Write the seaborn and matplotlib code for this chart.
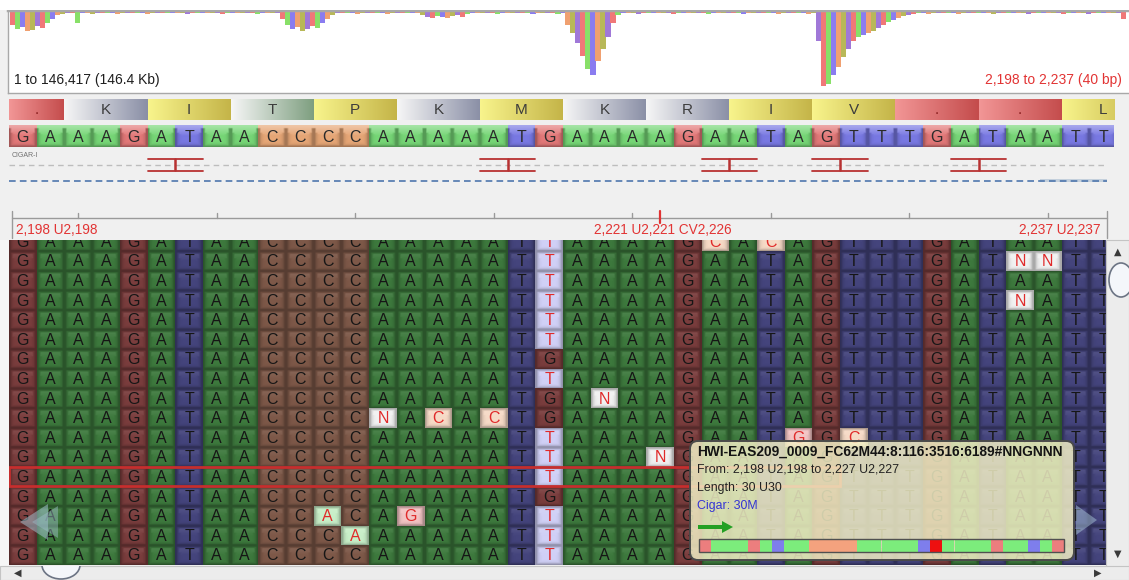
import numpy as np
import matplotlib
matplotlib.use("Agg")
import matplotlib.pyplot as plt
from matplotlib.colors import ListedColormap, to_rgb
from matplotlib.patches import Rectangle, FancyBboxPatch, Polygon, Ellipse, FancyArrow
import seaborn as sns

sns.set_theme(style="white")
plt.rcParams["font.family"] = ["Liberation Sans", "DejaVu Sans"]

# ---------------------------------------------------------------- data
genome_length = 146417
view_start, view_end = 2198, 2237
cursor_pos, cursor_cv = 2221, 2226

reference = "GAAAGATAACCCCAAAAATGAAAAGAATAGTTTGATAATT"
amino_acids = [".", "K", "I", "T", "P", "K", "M", "K", "R", "I", "V", ".", ".", "L"]
frame_offset = -1
insertion_sites = [6, 18, 26, 30, 35]

reads = [
    "GAAAGATAACCCCAAAAATTAAAAGCACAGTTTGATAATT",
    "GAAAGATAACCCCAAAAATTAAAAGAATAGTTTGATNNTT",
    "GAAAGATAACCCCAAAAATTAAAAGAATAGTTTGATAATT",
    "GAAAGATAACCCCAAAAATTAAAAGAATAGTTTGATNATT",
    "GAAAGATAACCCCAAAAATTAAAAGAATAGTTTGATAATT",
    "GAAAGATAACCCCAAAAATTAAAAGAATAGTTTGATAATT",
    "GAAAGATAACCCCAAAAATGAAAAGAATAGTTTGATAATT",
    "GAAAGATAACCCCAAAAATTAAAAGAATAGTTTGATAATT",
    "GAAAGATAACCCCAAAAATGANAAGAATAGTTTGATAATT",
    "GAAAGATAACCCCNACACTGAAAAGAATAGTTTGATAATT",
    "GAAAGATAACCCCAAAAATTAAAAGAATGGCTTGATAATT",
    "GAAAGATAACCCCAAAAATTAAANGAATAGTTTGATAATT",
    "GAAAGATAACCCCAAAAATTAAAAGAATAGTTTGATAATT",
    "GAAAGATAACCCCAAAAATGAAAAGAATAGTTTGATAATT",
    "GAAAGATAACCACAGAAATTAAAAGAATAGTTTGATAATT",
    "GAAAGATAACCCAAAAAATTAAAAGAATAGTTTGATAATT",
    "GAAAGATAACCCCAAAAATTAAAAGAATAGTTTGATAATT",
]
selected_row = 12
read_name = "HWI-EAS209_0009_FC62M44:8:116:3516:6189#NNGNNN"
read_start, read_end = 2198, 2227
read_len = 30
cigar = "30M"

coverage = [
    14, 18, 16, 20, 19, 15, 17, 12, 8,
    4, 3, 2, 2,
    12,
    2, 2, 3, 2, 2, 2, 2, 3, 2, 2, 2, 2, 2, 3, 2, 2, 2, 2, 2, 2,
    2, 3, 2, 2, 2, 2, 2, 2, 3, 2, 2, 2, 2, 2, 2, 3, 2, 2, 2, 2,
    8, 14, 18, 16, 20, 18, 15, 17, 12, 8, 4, 2,
    2, 2, 2, 3, 2, 2, 2, 2, 2, 3, 2, 2, 2, 2, 2, 2, 4, 6, 7, 5,
    6, 7, 5, 4, 6, 3, 2, 2, 2, 2, 2, 3, 2, 2, 2, 2, 2, 2, 3, 2,
    2, 2, 2, 3, 2,
    14, 22, 32, 45, 58, 64, 50, 38, 26, 12, 4,
    2, 2, 2, 3, 2, 2, 2, 2, 2, 2, 3, 2, 2, 2, 2, 2, 2, 3, 2, 2,
    2, 2, 2, 2, 3, 2, 2, 2, 2, 2, 2, 3, 2, 2, 2, 2, 2, 3, 2,
    30, 75, 73, 64, 56, 46, 38, 30, 26, 24, 22, 20, 17, 14, 11, 9, 7, 5, 4, 3,
    2, 2, 3, 2, 2, 2, 2, 2, 3, 2, 2, 2, 2, 2, 2, 3, 2, 2, 2, 2,
    2, 2, 3, 2, 2, 2, 2, 2, 2, 3, 2, 2, 2, 2, 3, 2, 2, 2, 2, 2, 2,
    8,
]

# ---------------------------------------------------------------- styles
W, H = 1129, 580
CW = 27.7          # pixel width of one base
RH = 19.6          # pixel height of one read row
X0 = 9             # left pixel of base 0
ROW1_Y = 261       # pixel centre of the second read row
BASES = "ACGT"
body_colors = ["#3d793d", "#7d5848", "#7a3d3d", "#44447c",       # match A C G T
               "#c8efc8", "#f6dac6", "#f3c4c4", "#d0d0f6", "#f2f2f2"]  # mismatch A C G T N
head_colors = ["#76d676", "#e6a676", "#e27878", "#7878e2"]
bar_colors = {"A": "#7cec7c", "C": "#f4a27e", "G": "#ec7e7e", "T": "#7e7eec"}
coverage_palette = ["#f07878", "#88e068", "#8a7cf0", "#f0a070", "#b8b858", "#a078d8"]
aa_grad = {
    ".": ("#f29696", "#c44c4c"),
    "K": ("#f6f6f6", "#8a8fa6"), "R": ("#f6f6f6", "#8a8fa6"),
    "T": ("#f6f6f6", "#7d9e7f"),
    "I": ("#f8f48c", "#c4b448"), "V": ("#f8f48c", "#c4b448"),
    "M": ("#f8f48c", "#c4b448"), "L": ("#f8f48c", "#c4b448"),
    "P": ("#f8f48c", "#c4b448"),
}


def code_of(base, ref_base):
    if base == "N":
        return 8
    if base != ref_base:
        return 4 + BASES.index(base)
    return BASES.index(base)


def px_axes(x0, y0, x1, y1, **kw):
    return fig.add_axes([x0 / W, 1 - y1 / H, (x1 - x0) / W, (y1 - y0) / H], **kw)


def edge_shade(nr, nc, s=14, strength=0.32, top_light=0.0):
    u = np.linspace(-1, 1, s)
    uu, vv = np.meshgrid(u, u)
    edge = np.maximum(np.abs(uu), np.abs(vv)) ** 6
    tile = np.zeros((s, s, 4))
    tile[..., 3] = strength * edge
    if top_light > 0:
        t = (vv + 1) / 2
        light = top_light * np.clip(1 - 2 * t, 0, 1)
        tile[..., :3] = np.where(light[..., None] > tile[..., 3:4], 1.0, 0.0)
        tile[..., 3] = np.maximum(tile[..., 3], light)
    return np.tile(tile, (nr, nc, 1))


fig = plt.figure(figsize=(W / 100, H / 100), dpi=100)
fig.patch.set_facecolor("#f0f0f0")

n_rows, n_cols = len(reads), len(reference)

# ---------------------------------------------------------------- overview coverage
ovw = px_axes(8, 10, 1129, 93)
ovw.set_facecolor("white")
bin_bp = genome_length / len(coverage)
xs = (np.arange(len(coverage)) + 0.5) * bin_bp
cols = [coverage_palette[i % len(coverage_palette)] for i in range(len(coverage))]
ovw.bar(xs, coverage, width=bin_bp * 1.02, color=cols, linewidth=0)
ovw.set_xlim(-bin_bp * 0.4, genome_length + bin_bp * 0.6)
ovw.set_ylim(82, -1)
ovw.set_xticks([]); ovw.set_yticks([])
for side, sp in ovw.spines.items():
    sp.set_color("#a8a8a8")
    sp.set_linewidth(2.5 if side == "top" else 1.0)
ovw.spines["right"].set_visible(False)

# ---------------------------------------------------------------- amino-acid track
xmax_head = (1114 - X0) / CW
aa_ax = px_axes(X0, 99, 1114, 120)
aa_ax.set_xlim(0, xmax_head)
aa_ax.set_ylim(1, 0)
aa_ax.axis("off")
for k, aa in enumerate(amino_acids):
    s = frame_offset + 3 * k
    e = s + 3
    left = max(s, 0)
    c0, c1 = (np.array(to_rgb(c)) for c in aa_grad[aa])
    grad = np.linspace(0, 1, 64)[None, :, None]
    img = c0 + (c1 - c0) * grad
    aa_ax.imshow(img, extent=(left, e, 1, 0), aspect="auto", interpolation="bilinear")
    aa_ax.text((left + e) / 2, 0.5, aa, ha="center", va="center", fontsize=11,
               color="#8a2020" if aa == "." else "#3c3c3c", clip_on=True)
aa_ax.set_xlim(0, xmax_head)
aa_ax.set_ylim(1, 0)

# ---------------------------------------------------------------- reference track
ref_codes = np.array([[BASES.index(b) for b in reference]])
nt_ax = px_axes(X0, 125, 1114, 147)
sns.heatmap(ref_codes, ax=nt_ax, cmap=ListedColormap(head_colors), vmin=-0.5, vmax=3.5,
            cbar=False, xticklabels=False, yticklabels=False)
nt_ax.imshow(edge_shade(1, n_cols, strength=0.28, top_light=0.35),
             extent=(0, n_cols, 1, 0), aspect="auto", interpolation="bilinear", zorder=2)
for c, b in enumerate(reference):
    nt_ax.text(c + 0.5, 0.55, b, ha="center", va="center", fontsize=11.5,
               color="#2a2a2a", zorder=3, clip_on=True)
nt_ax.set_xlim(0, xmax_head)
nt_ax.set_ylim(1, 0)

# ---------------------------------------------------------------- cigar + ruler tracks (y in pixels)
tr = px_axes(X0, 150, 1114, 240)
tr.set_xlim(0, xmax_head)
tr.set_ylim(240, 150)
tr.axis("off")
tr.text(0.1, 156, "CIGAR-I", fontsize=5, color="#707070", va="center")
x_end = (1107 - X0) / CW
tr.plot([0, x_end], [165, 165], color="#bdbdbd", lw=1, dashes=(4, 3))
for b in insertion_sites:
    tr.plot([b - 1, b + 1], [159, 159], color="#b83232", lw=1.3)
    tr.plot([b - 1, b + 1], [171, 171], color="#b83232", lw=1.3)
    tr.plot([b, b], [159, 170], color="#b83232", lw=1.8)
tr.add_patch(Rectangle(((1040 - X0) / CW, 179.5), x_end - (1040 - X0) / CW, 3,
                       fc="#c4d0dc", ec="none"))
tr.plot([0, x_end], [181, 181], color="#4f76ad", lw=1.2, dashes=(4, 2.5))

# ruler
tr.plot([0.1, x_end], [218, 218], color="#9a9a9a", lw=1)
tr.plot([0.1, 0.1], [211, 238], color="#9a9a9a", lw=1)
tr.plot([x_end, x_end], [211, 238], color="#9a9a9a", lw=1)
for pos in range(view_start, view_end + 1):
    if pos % 5 == 0:
        xc = pos - view_start + 0.5
        tr.plot([xc, xc], [213, 218], color="#9a9a9a", lw=1)
xc = cursor_pos - view_start + 0.5
tr.plot([xc, xc], [211, 223], color="#e03232", lw=1.6)
lab_kw = dict(fontsize=9.8, color="#e23434", va="center")
tr.text(0.25, 230, f"{view_start:,} U{view_start:,}", ha="left", **lab_kw)
tr.text(xc + 0.1, 230, f"{cursor_pos:,} U{cursor_pos:,} CV{cursor_cv:,}", ha="center", **lab_kw)
tr.text(x_end - 0.25, 230, f"{view_end:,} U{view_end:,}", ha="right", **lab_kw)

# ---------------------------------------------------------------- read pile-up
codes = np.array([[code_of(r[c], reference[c]) for c in range(n_cols)] for r in reads])
body = px_axes(X0, 240, 1106, 565)
sns.heatmap(codes, ax=body, cmap=ListedColormap(body_colors), vmin=-0.5, vmax=8.5,
            cbar=False, xticklabels=False, yticklabels=False)
body.imshow(edge_shade(n_rows, n_cols, strength=0.30, top_light=0.10),
            extent=(0, n_cols, n_rows, 0), aspect="auto", interpolation="bilinear", zorder=2)
for r, read in enumerate(reads):
    for c, b in enumerate(read):
        mism = codes[r, c] >= 4
        body.text(c + 0.5, r + 0.55, b, ha="center", va="center", fontsize=11.5,
                  color="#e02a2a" if mism else "#161616", zorder=3, clip_on=True)
body.add_patch(Rectangle((0, selected_row), read_len, 1, fill=False, ec="#c62e2e",
                         lw=2, zorder=4))
top = (240 - (ROW1_Y - 1.5 * RH)) / RH
body.set_xlim(0, (1106 - X0) / CW)
body.set_ylim(top + (565 - 240) / RH, top)

# ---------------------------------------------------------------- overlay: labels, tooltip, scrollbars
ov = fig.add_axes([0, 0, 1, 1], zorder=20)
ov.set_xlim(0, W)
ov.set_ylim(H, 0)
ov.axis("off")
ov.patch.set_alpha(0)
ov.add_patch(Rectangle((0, 0), W, 9.5, fc="white", ec="none"))
ov.add_patch(Rectangle((0, 240), X0, 340, fc="#f6f6f6", ec="none"))

ov.text(14, 80, f"1 to {genome_length:,} ({genome_length / 1000:.1f} Kb)", fontsize=10,
        color="#1e1e1e", va="center")
ov.text(1122, 80, f"{view_start:,} to {view_end:,} ({view_end - view_start + 1} bp)",
        fontsize=10, color="#e23434", va="center", ha="right")

# navigation arrows
ov.add_patch(Polygon([[20, 522], [48, 504], [48, 540]], closed=True, fc="#9fbfcc",
                     ec="none", alpha=0.55))
ov.add_patch(Polygon([[32, 522], [58, 506], [58, 538]], closed=True, fc="#9fbfcc",
                     ec="none", alpha=0.45))
ov.add_patch(Polygon([[1097, 520], [1076, 505], [1076, 535]], closed=True, fc="#a8c4d8",
                     ec="none", alpha=0.5))

# tooltip
ov.add_patch(FancyBboxPatch((690, 441), 384, 119, boxstyle="round,pad=0,rounding_size=8",
                            fc="#f3f0c6", ec="none", alpha=0.84))
ov.add_patch(FancyBboxPatch((690, 441), 384, 119, boxstyle="round,pad=0,rounding_size=8",
                            fc="none", ec="#4a4a4a", lw=1.4))
ov.text(697, 452, read_name, fontsize=9.9, fontweight="bold", color="#141414", va="center")
ov.text(697, 470, f"From: {read_start:,} U{read_start:,} to {read_end:,} U{read_end:,}",
        fontsize=8.9, color="#222222", va="center")
ov.text(697, 488, f"Length: {read_len} U{read_len}", fontsize=8.9, color="#222222", va="center")
ov.text(697, 506, f"Cigar: {cigar}", fontsize=8.9, color="#3434d4", va="center")
ov.add_patch(FancyArrow(698, 527, 24, 0, width=4, head_width=12, head_length=11,
                        length_includes_head=False, fc="#24a024", ec="none"))
sel = reads[selected_row][:read_len]
bx0, bx1 = 699, 1064
seg = (bx1 - bx0) / read_len
for i, b in enumerate(sel):
    colr = "#ee1010" if b != reference[i] else bar_colors.get(b, "#dddddd")
    ov.add_patch(Rectangle((bx0 + i * seg, 539), seg, 13, fc=colr, ec="none"))
ov.add_patch(Rectangle((bx0, 539), bx1 - bx0, 13, fc="none", ec="#505050", lw=1))

# scrollbars
vtrack = Rectangle((1106, 240), 23, 327, fc="#ececec", ec="#c4c4c4", lw=0.8)
htrack = Rectangle((0, 566), 1129, 14, fc="#ececec", ec="#c4c4c4", lw=0.8)
ov.add_patch(vtrack)
ov.add_patch(htrack)
vthumb = Ellipse((1121, 280), 24, 34, fc="#f4f6fa", ec="#6c7484", lw=1.2)
ov.add_patch(vthumb)
vthumb.set_clip_path(vtrack)
hthumb = Ellipse((61, 565), 38, 28, fc="#f4f6fa", ec="#6c7484", lw=1.2)
ov.add_patch(hthumb)
hthumb.set_clip_path(htrack)
arrow_kw = dict(fontsize=7, color="#3a3a3a", ha="center", va="center", family="DejaVu Sans")
ov.text(1118, 252, "\u25B2", **arrow_kw)
ov.text(1118, 554, "\u25BC", **arrow_kw)
ov.text(18, 573, "\u25C0", **arrow_kw)
ov.text(1098, 573, "\u25B6", **arrow_kw)

fig.savefig("out.png", dpi=100, facecolor=fig.get_facecolor())
